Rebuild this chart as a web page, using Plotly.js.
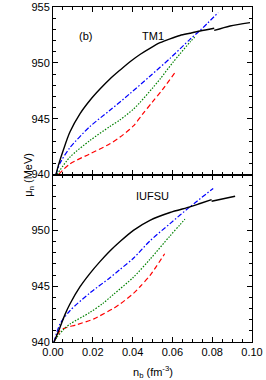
<!DOCTYPE html>
<html><head><meta charset="utf-8">
<script src="https://cdn.plot.ly/plotly-3.0.1.min.js"></script>
<style>html,body{margin:0;padding:0;background:#fff}#chart{width:266px;height:380px}</style>
</head><body><div id="chart"></div>
<script>
// ---- TM1 (top panel) ----
const tm1BlackNb1 = [0.0015,0.003,0.0052,0.0085,0.0136,0.0186,0.0236,0.0286,0.0337,0.0387,0.0437,0.0487,0.0538,0.0588,0.0638,0.0688,0.0739,0.081];
const tm1BlackMu1 = [940.0,941.0,942.2,943.8,945.45,946.65,947.65,948.55,949.35,950.1,950.75,951.3,951.8,952.15,952.45,952.65,952.85,953.1];
const tm1BlackNb2 = [0.081,0.089,0.099];
const tm1BlackMu2 = [952.9,953.3,953.6];
const tm1BlueNb = [0.0015,0.0035,0.0085,0.0186,0.0286,0.0387,0.0487,0.0588,0.0688,0.0739,0.083];
const tm1BlueMu = [940.0,941.0,942.4,944.3,945.75,947.25,948.8,950.4,952.1,952.9,954.5];
const tm1GreenNb = [0.002,0.0085,0.0186,0.0286,0.0337,0.0404,0.0437,0.0503,0.0538,0.0603,0.0638,0.0688,0.0712];
const tm1GreenMu = [940.0,941.55,943.05,944.3,944.9,945.85,946.45,947.8,948.55,950.05,950.8,951.85,952.3];
const tm1RedNb = [0.0028,0.0085,0.0186,0.0286,0.0337,0.0404,0.045,0.05,0.055,0.062];
const tm1RedMu = [940.0,940.95,941.85,942.75,943.35,944.35,945.4,946.5,947.6,949.3];
// ---- IUFSU (bottom panel) ----
const iuBlackNb1 = [0.0005,0.0035,0.006,0.0085,0.0136,0.0186,0.0236,0.0286,0.0337,0.0404,0.0487,0.0588,0.0688,0.0739,0.0797];
const iuBlackMu1 = [940.0,941.3,942.45,943.4,944.95,946.15,947.2,948.15,949.0,950.0,950.9,951.6,952.1,952.4,952.75];
const iuBlackNb2 = [0.0797,0.0915];
const iuBlackMu2 = [952.6,953.05];
const iuBlueNb = [0.0005,0.0035,0.0085,0.0186,0.0286,0.0337,0.0404,0.0487,0.0588,0.0688,0.0805];
const iuBlueMu = [940.0,941.6,942.8,944.4,945.75,946.5,947.5,949.05,950.6,952.1,953.75];
const iuGreenNb = [0.0005,0.0019,0.0052,0.0085,0.0186,0.025,0.0303,0.0404,0.0487,0.0588,0.0638,0.0663];
const iuGreenMu = [940.0,940.4,941.1,941.6,942.65,943.45,944.25,945.8,947.4,949.5,950.5,951.0];
const iuRedNb = [0.0005,0.0035,0.006,0.0119,0.0203,0.0236,0.0303,0.0337,0.0404,0.0437,0.0487,0.0561];
const iuRedMu = [940.0,941.0,941.25,941.55,942.05,942.35,943.0,943.4,944.35,944.95,945.95,947.9];

const xTickVals = [0,0.02,0.04,0.06,0.08,0.10];
const xTickText = ['0.00','0.02','0.04','0.06','0.08','0.10'];
const yTickTop = [940,945,950,955];
const yTickBot = [940,945,950];

const blackL = {color:'#000000', width:1.4, shape:'spline', smoothing:0.8};
const blueL = {color:'#0000ff', width:1.2, dash:'5px,2px,1.5px,2px', shape:'spline', smoothing:0.8};
const greenL = {color:'#008000', width:1.2, dash:'1.5px,1.5px', shape:'spline', smoothing:0.8};
const redL = {color:'#ff0000', width:1.2, dash:'5px,3px', shape:'spline', smoothing:0.8};

function tr(x,y,line,xa,ya){return {x:x,y:y,mode:'lines',line:line,xaxis:xa,yaxis:ya,showlegend:false,hoverinfo:'skip'};}
const data = [
  tr(tm1RedNb,tm1RedMu,redL,'x','y'),
  tr(tm1GreenNb,tm1GreenMu,greenL,'x','y'),
  tr(tm1BlueNb,tm1BlueMu,blueL,'x','y'),
  tr(tm1BlackNb1,tm1BlackMu1,blackL,'x','y'),
  tr(tm1BlackNb2,tm1BlackMu2,blackL,'x','y'),
  tr(iuRedNb,iuRedMu,redL,'x2','y2'),
  tr(iuGreenNb,iuGreenMu,greenL,'x2','y2'),
  tr(iuBlueNb,iuBlueMu,blueL,'x2','y2'),
  tr(iuBlackNb1,iuBlackMu1,blackL,'x2','y2'),
  tr(iuBlackNb2,iuBlackMu2,blackL,'x2','y2')
];

const font = {family:'Liberation Sans, Arial, sans-serif', size:11, color:'#000'};
function xax(showLabels, anchor){
  return {domain:[0,1], range:[0,0.10], anchor:anchor, tickvals:xTickVals, ticktext:xTickText,
    showticklabels:showLabels, ticks:'inside', ticklen:5, tickwidth:1, tickcolor:'#000',
    minor:{dtick:0.005, tick0:0, ticks:'inside', ticklen:3, tickwidth:1, tickcolor:'#000'},
    showline:true, linecolor:'#000', linewidth:1, mirror:'ticks', showgrid:false, zeroline:false,
    tickfont:font};
}
function yax(dom, vals, anchor){
  return {domain:dom, range:[940,955], anchor:anchor, tickvals:vals, ticktext:vals.map(String),
    ticks:'inside', ticklen:5, tickwidth:1, tickcolor:'#000',
    minor:{dtick:1, tick0:940, ticks:'inside', ticklen:3, tickwidth:1, tickcolor:'#000'},
    showline:true, linecolor:'#000', linewidth:1, mirror:'ticks', showgrid:false, zeroline:false,
    tickfont:font};
}
const layout = {
  width:266, height:380, margin:{l:53, r:14, t:7, b:38},
  paper_bgcolor:'#fff', plot_bgcolor:'#fff', font:font,
  xaxis: xax(false,'y'),
  yaxis: yax([0.5,1], yTickTop,'x'),
  xaxis2: xax(true,'y2'),
  yaxis2: yax([0,0.5], yTickBot,'x2'),
  annotations:[
    {text:'(b)', x:0.12, y:0.937, xref:'paper', yref:'paper', showarrow:false, font:{family:font.family,size:11,color:'#000'}},
    {text:'TM1', x:0.5, y:0.937, xref:'paper', yref:'paper', showarrow:false, font:{family:font.family,size:11,color:'#000'}},
    {text:'IUFSU', x:0.5, y:0.436, xref:'paper', yref:'paper', showarrow:false, font:{family:font.family,size:11,color:'#000'}},
    {text:'n<sub>b</sub> (fm<sup>-3</sup>)', x:0.5, y:-0.09, xref:'paper', yref:'paper', yanchor:'middle', showarrow:false, font:{family:font.family,size:11,color:'#000'}},
    {text:'μ<sub>n</sub> (MeV)', x:-0.17, y:0.5, xref:'paper', yref:'paper', textangle:-90, showarrow:false, font:{family:font.family,size:11,color:'#000'}}
  ]
};
Plotly.newPlot('chart', data, layout, {staticPlot:true, displayModeBar:false});
</script></body></html>
